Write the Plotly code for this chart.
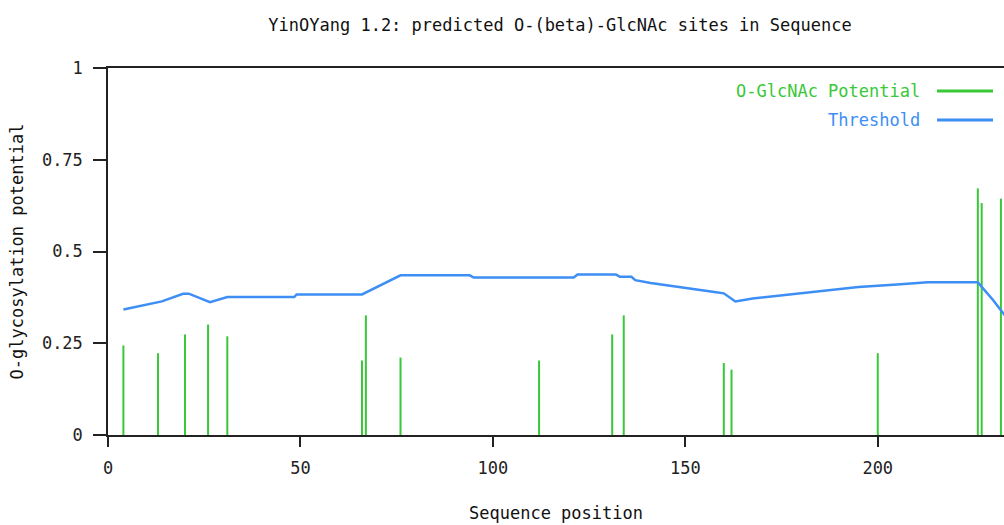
import plotly.graph_objects as go

# ---- data ----
site_pos = [4, 13, 20, 26, 31, 66, 67, 76, 112, 131, 134, 160, 162, 200, 226, 227, 232]
site_potential = [0.244, 0.223, 0.274, 0.301, 0.269, 0.203, 0.326, 0.211, 0.203,
                  0.274, 0.326, 0.196, 0.178, 0.223, 0.672, 0.632, 0.644]

thr_pos = [4, 14, 19.5, 21, 26.5, 31, 48.4, 49, 66, 76, 94, 95, 121, 122, 132, 133,
           136, 137, 141, 145.4, 149.7, 154, 158, 160, 163, 167.5, 173, 178, 184,
           189, 195, 205, 213, 226, 230, 233]
thr_val = [0.342, 0.364, 0.385, 0.385, 0.362, 0.376, 0.376, 0.383, 0.383, 0.435,
           0.435, 0.429, 0.429, 0.437, 0.437, 0.431, 0.431, 0.422, 0.414, 0.408,
           0.402, 0.396, 0.389, 0.386, 0.364, 0.372, 0.378, 0.384, 0.391, 0.397,
           0.403, 0.410, 0.416, 0.416, 0.367, 0.326]

x_ticks = [0, 50, 100, 150, 200]
y_ticks = [0, 0.25, 0.5, 0.75, 1]
y_tick_text = ["0", "0.25", "0.5", "0.75", "1"]

GREEN = "#38c838"
BLUE = "#3d8ef5"
FONT = "DejaVu Sans Mono"

# stems for each site
stem_x, stem_y = [], []
for p, v in zip(site_pos, site_potential):
    stem_x += [p, p, None]
    stem_y += [0, v, None]

fig = go.Figure()
fig.add_trace(go.Scatter(x=stem_x, y=stem_y, mode="lines", name="O-GlcNAc Potential",
                         line=dict(color=GREEN, width=2), showlegend=False,
                         hoverinfo="skip"))
fig.add_trace(go.Scatter(x=thr_pos, y=thr_val, mode="lines", name="Threshold",
                         line=dict(color=BLUE, width=2.5), showlegend=False))

W, H = 1004, 525
L, R, T, B = 108, 0, 68, 90

fig.update_layout(
    width=W, height=H,
    margin=dict(l=L, r=R, t=T, b=B, autoexpand=False),
    paper_bgcolor="white", plot_bgcolor="white",
    font=dict(family=FONT, size=17, color="#222"),
    title=dict(text="YinOYang 1.2: predicted O-(beta)-GlcNAc sites in Sequence",
               x=560 / W, xref="container", xanchor="center",
               y=1 - 25 / H, yref="container", yanchor="middle",
               font=dict(family=FONT, size=17, color="#111")),
    xaxis=dict(range=[0, 232.8], tickvals=x_ticks, showgrid=False, zeroline=False,
               showline=True, linecolor="#222", linewidth=1.5, mirror=True,
               ticks="outside", ticklen=10, tickwidth=1.5, tickcolor="#222",
               ticklabelstandoff=7,
               title=dict(text="Sequence position", standoff=30,
                          font=dict(family=FONT, size=17, color="#111"))),
    yaxis=dict(range=[0, 1], tickvals=y_ticks, ticktext=y_tick_text,
               showgrid=False, zeroline=False,
               showline=True, linecolor="#222", linewidth=1.5,
               ticks="outside", ticklen=13, tickwidth=1.5, tickcolor="#222",
               ticklabelstandoff=7,
               title=dict(text="O-glycosylation potential", standoff=14,
                          font=dict(family=FONT, size=17, color="#111"))),
)

# legend drawn manually (text to the left of the line sample)
legend_items = [("O-GlcNAc Potential", GREEN, 91), ("Threshold", BLUE, 120)]
for label, col, ypx in legend_items:
    fig.add_annotation(text=label, xref="paper", yref="paper",
                       x=(922 - L) / (W - L - R), y=(H - B - ypx) / (H - T - B),
                       xanchor="right", yanchor="middle", showarrow=False,
                       font=dict(family=FONT, size=17, color=col))
    fig.add_shape(type="line", xref="paper", yref="paper",
                  x0=(937 - L) / (W - L - R), x1=(993 - L) / (W - L - R),
                  y0=(H - B - ypx) / (H - T - B), y1=(H - B - ypx) / (H - T - B),
                  line=dict(color=col, width=3))

fig.write_html("out.html")
